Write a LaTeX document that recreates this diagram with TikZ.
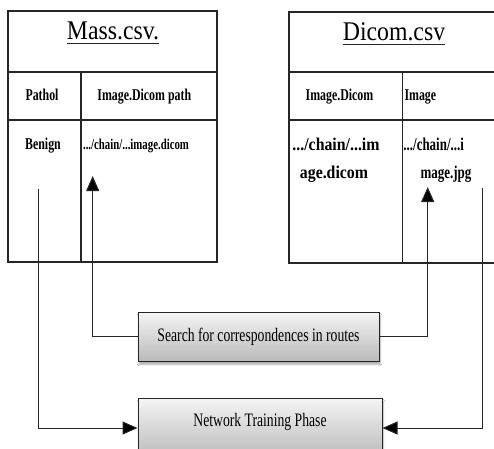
\documentclass[tikz,border=0pt]{standalone}
\usepackage{fontspec}
\setmainfont{Liberation Serif}[FakeStretch=0.72]
\newfontfamily\widerm{Liberation Serif}[FakeStretch=0.88]
\usetikzlibrary{arrows.meta,shadows.blur}
\tikzset{
 frame/.style={draw=black!85,line width=1.2pt},
 link/.style={draw=black!85,line width=1pt},
 linkarrow/.style={link,-{Triangle[length=15pt,width=13pt,fill=black]}},
 sheettitle/.style={inner sep=0,anchor=base,font=\widerm\fontsize{27}{32}\selectfont},
 underl/.style={draw=black!85,line width=.8pt},
 colhead/.style={inner sep=0,anchor=base,font=\bfseries\fontsize{16.5}{20}\selectfont},
 cellbig/.style={inner sep=0,anchor=base,font=\widerm\bfseries\fontsize{18}{22}\selectfont},
 cellrm/.style={inner sep=0,anchor=base,font=\bfseries\fontsize{18}{22}\selectfont},
 stepbox/.style={draw=black!85,line width=1pt,top color=black!4,bottom color=black!27,
  blur shadow={shadow xshift=1pt,shadow yshift=-3pt,shadow blur steps=6,shadow opacity=35},
  font=\fontsize{19}{23}\selectfont,inner sep=0,minimum width=241pt,minimum height=49pt}
}
\begin{document}
\begin{tikzpicture}[x=1pt,y=-1pt]
\path[use as bounding box,fill=white] (0,0) rectangle (494,448);
\draw[frame] (8,11) rectangle (217,262);
\draw[frame] (8,72) -- (217,72);
\draw[frame] (8,120) -- (217,120);
\draw[frame] (81,72) -- (81,262);
\draw[frame] (289,12) rectangle (498,263);
\draw[frame] (289,72) -- (498,72);
\draw[frame] (289,120) -- (498,120);
\draw[frame] (402.7,72) -- (402.7,263);
\node[sheettitle] (masstitle) at (113,39.3) {Mass.csv.};
\draw[underl] ([yshift=-4pt]masstitle.base west) -- ([yshift=-4pt]masstitle.base east);
\node[colhead] (pathol) at (42,100) {Pathol};
\node[colhead] (dcmpath) at (144.3,100) {Image.Dicom path};
\node[colhead] (benign) at (43,149) {Benign};
\node[colhead,font=\bfseries\fontsize{15}{18}\selectfont] (dcmfile) at (136,149) {.../chain/...image.dicom};
\node[sheettitle] (dcmtitle) at (394,40) {Dicom.csv};
\draw[underl] ([yshift=-4pt]dcmtitle.base west) -- ([yshift=-4pt]dcmtitle.base east);
\node[colhead] (dcmhead) at (339.5,100) {Image.Dicom};
\node[colhead,anchor=base west] (imghead) at (404.3,100) {Image};
\node[cellbig] (dcmcella) at (336,150) {.../chain/...im};
\node[cellbig] (dcmcellb) at (334,178) {age.dicom};
\node[cellrm] (jpgcella) at (433.7,150) {.../chain/...i};
\node[cellrm] (jpgcellb) at (446,178) {mage.jpg};
\coordinate (dcmtip) at (92.7,176);
\coordinate (pathtop) at (38,189);
\coordinate (jpgtip) at (427.7,187);
\coordinate (jpgtop) at (482.7,188);
\node[stepbox,text height=13pt,text depth=4pt] (search) at (258.5,336.5) {Search for correspondences in routes};
\node[stepbox,minimum width=244pt,minimum height=60pt,text height=13pt,text depth=15.6pt] (train) at (260,428) {Network Training Phase};
\draw[linkarrow] (search.west) -| (dcmtip);
\draw[linkarrow] (search.east) -| (jpgtip);
\draw[linkarrow] (pathtop) |- (train.west);
\draw[linkarrow] (jpgtop) |- (train.east);
\end{tikzpicture}
\end{document}
